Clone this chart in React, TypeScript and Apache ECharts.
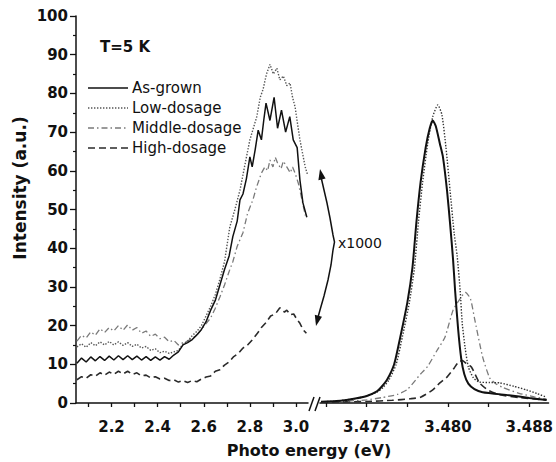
import React, { useEffect, useRef } from "react";
import * as echarts from "echarts";

// ---------- Data (x1000-scaled visible band, left segment) ----------
const AS_GROWN_LEFT_E = [2.05, 2.07, 2.09, 2.11, 2.13, 2.15, 2.17, 2.19, 2.21, 2.23, 2.25, 2.27, 2.29, 2.31, 2.33, 2.35, 2.37, 2.39, 2.41, 2.43, 2.45, 2.47, 2.49, 2.51, 2.53, 2.55, 2.57, 2.59, 2.61, 2.63, 2.65, 2.67, 2.69, 2.71, 2.726, 2.745, 2.757, 2.77, 2.785, 2.8, 2.81, 2.823, 2.836, 2.85, 2.86, 2.87, 2.887, 2.905, 2.92, 2.937, 2.955, 2.973, 2.988, 3.005, 3.017, 3.03, 3.047];
const AS_GROWN_LEFT_I = [10.3, 11.6, 10.6, 11.9, 10.9, 12.0, 11.0, 12.1, 11.1, 12.2, 11.2, 12.2, 11.2, 12.1, 11.1, 12.0, 11.0, 11.9, 11.1, 12.0, 11.3, 12.4, 13.2, 15.0, 15.6, 16.4, 17.6, 19.0, 21.0, 24.0, 26.5, 30.5, 34.5, 38.0, 43.0, 47.0, 52.5, 54.0, 58.0, 63.6, 61.0, 65.5, 70.5, 68.0, 73.0, 77.5, 73.0, 79.0, 71.0, 75.7, 70.0, 74.0, 68.0, 66.0, 57.6, 51.7, 48.0];

const LOW_LEFT_E = [2.05, 2.07, 2.09, 2.11, 2.13, 2.15, 2.17, 2.19, 2.21, 2.23, 2.25, 2.27, 2.29, 2.31, 2.33, 2.35, 2.37, 2.39, 2.41, 2.43, 2.45, 2.47, 2.49, 2.51, 2.53, 2.55, 2.57, 2.59, 2.61, 2.63, 2.65, 2.67, 2.69, 2.713, 2.735, 2.757, 2.78, 2.8, 2.815, 2.83, 2.845, 2.857, 2.872, 2.887, 2.902, 2.917, 2.93, 2.945, 2.96, 2.974, 2.985, 2.996, 3.007, 3.017, 3.03, 3.04, 3.05];
const LOW_LEFT_I = [14.5, 15.3, 14.4, 15.6, 14.8, 15.8, 15.0, 15.9, 15.0, 15.8, 14.9, 15.6, 14.6, 15.2, 14.2, 14.6, 13.6, 14.0, 13.0, 13.4, 12.8, 13.2, 13.6, 15.2, 16.0, 17.4, 18.5, 20.0, 22.5, 25.0, 28.0, 32.0, 36.5, 45.5, 50.0, 55.0, 62.0, 68.0, 71.0, 74.0, 79.0, 81.0, 85.0, 87.5, 85.0, 86.5, 83.5, 84.5, 82.0, 82.7, 79.0, 76.5, 72.0, 68.0, 64.0, 61.0, 59.0];

const MIDDLE_LEFT_E = [2.05, 2.07, 2.09, 2.11, 2.13, 2.15, 2.17, 2.19, 2.21, 2.23, 2.25, 2.27, 2.29, 2.31, 2.33, 2.35, 2.37, 2.39, 2.41, 2.43, 2.45, 2.47, 2.49, 2.51, 2.53, 2.55, 2.57, 2.59, 2.61, 2.63, 2.65, 2.67, 2.69, 2.71, 2.726, 2.745, 2.77, 2.79, 2.813, 2.83, 2.85, 2.865, 2.877, 2.887, 2.9, 2.91, 2.92, 2.935, 2.945, 2.96, 2.975, 2.985, 2.996, 3.01, 3.026, 3.04];
const MIDDLE_LEFT_I = [16.0, 17.5, 16.8, 18.4, 17.5, 19.2, 18.2, 19.5, 18.6, 20.0, 18.8, 20.2, 18.8, 19.5, 18.0, 18.6, 17.2, 17.8, 16.6, 17.0, 15.8, 16.2, 15.0, 15.6, 16.0, 16.8, 17.5, 19.0, 20.5, 22.0, 24.5, 27.4, 30.5, 34.0, 36.5, 40.5, 44.0, 49.0, 52.5, 56.0, 59.4, 61.0, 60.0, 62.8, 61.0, 63.5, 62.0, 60.5, 62.5, 61.0, 59.5, 61.0, 59.4, 56.8, 52.5, 48.5];

const HIGH_LEFT_E = [2.05, 2.07, 2.09, 2.11, 2.13, 2.15, 2.17, 2.19, 2.21, 2.23, 2.25, 2.27, 2.29, 2.31, 2.33, 2.35, 2.37, 2.39, 2.41, 2.43, 2.45, 2.47, 2.49, 2.51, 2.53, 2.55, 2.57, 2.59, 2.61, 2.63, 2.65, 2.67, 2.69, 2.71, 2.73, 2.75, 2.77, 2.79, 2.81, 2.83, 2.85, 2.87, 2.89, 2.91, 2.93, 2.95, 2.96, 2.975, 2.99, 3.005, 3.017, 3.03, 3.045];
const HIGH_LEFT_I = [6.0, 6.8, 6.4, 7.3, 6.9, 7.8, 7.2, 8.0, 7.4, 8.2, 7.5, 8.2, 7.4, 7.8, 7.0, 7.2, 6.5, 6.8, 6.2, 6.4, 5.8, 6.0, 5.4, 5.8, 5.3, 5.8, 5.5, 6.2, 6.7, 7.0, 8.2, 8.6, 9.8, 10.6, 12.0, 12.8, 14.2, 15.0, 16.3, 17.8, 19.5, 20.8, 22.5, 23.0, 24.6, 23.5, 24.0, 22.8, 23.0, 21.5, 20.6, 19.0, 18.0];

// ---------- Data (band-edge segment, right) ----------
const AS_GROWN_RIGHT_E = [3.4675, 3.469, 3.47, 3.471, 3.472, 3.473, 3.4734, 3.474, 3.4747, 3.4753, 3.476, 3.4765, 3.4769, 3.4773, 3.4778, 3.4782, 3.4785, 3.4788, 3.4792, 3.4795, 3.4799, 3.4802, 3.4805, 3.4807, 3.481, 3.4813, 3.4816, 3.482, 3.4826, 3.4834, 3.486, 3.488, 3.4897];
const AS_GROWN_RIGHT_I = [0.3, 0.5, 0.8, 1.2, 1.8, 3.0, 4.0, 6.0, 10.0, 17.0, 26.0, 35.0, 47.0, 57.0, 66.0, 71.0, 73.0, 71.5, 67.0, 63.6, 55.0, 46.5, 37.0, 29.0, 19.0, 11.5, 7.5, 5.0, 3.6, 2.8, 2.0, 1.3, 0.8];

const LOW_RIGHT_E = [3.4675, 3.469, 3.47, 3.471, 3.472, 3.473, 3.4736, 3.4742, 3.4749, 3.4755, 3.4762, 3.4767, 3.4771, 3.4775, 3.478, 3.4785, 3.479, 3.4794, 3.4798, 3.4802, 3.4806, 3.4809, 3.4812, 3.4814, 3.4817, 3.482, 3.4825, 3.4831, 3.4841, 3.4851, 3.4865, 3.4877, 3.4888, 3.4897];
const LOW_RIGHT_I = [0.3, 0.5, 0.8, 1.2, 1.8, 2.8, 4.0, 6.0, 10.0, 17.0, 26.0, 35.0, 47.0, 57.0, 67.0, 74.0, 77.0, 74.5, 66.0, 55.0, 44.0, 38.0, 29.0, 20.6, 14.0, 9.3, 6.5, 5.4, 5.3, 5.2, 4.3, 3.4, 2.4, 1.5];

const MIDDLE_RIGHT_E = [3.4675, 3.47, 3.472, 3.4735, 3.475, 3.476, 3.4773, 3.478, 3.4789, 3.4797, 3.4805, 3.4812, 3.4817, 3.4822, 3.4826, 3.4834, 3.4841, 3.4847, 3.4854, 3.487, 3.4885, 3.4897];
const MIDDLE_RIGHT_I = [0.3, 0.5, 0.8, 1.4, 2.2, 3.5, 7.5, 9.5, 13.5, 17.0, 24.0, 27.0, 28.6, 27.0, 22.0, 12.0, 6.5, 5.0, 4.0, 2.5, 1.6, 1.0];

const HIGH_RIGHT_E = [3.4675, 3.472, 3.4745, 3.4763, 3.4773, 3.4785, 3.4792, 3.4799, 3.4806, 3.481, 3.4814, 3.4818, 3.4823, 3.4831, 3.4839, 3.485, 3.487, 3.4897];
const HIGH_RIGHT_I = [0.2, 0.4, 0.7, 1.1, 1.5, 3.4, 5.2, 6.7, 9.0, 10.5, 11.0, 10.2, 9.3, 5.2, 3.4, 2.2, 1.4, 0.8];

// ---------- Axis ticks ----------
const Y_MIN = 0;
const Y_MAX = 100;
const Y_STEP = 10;
const LEFT_X_RANGE = [2.046, 3.052];
const LEFT_TICKS = [2.1, 2.2, 2.3, 2.4, 2.5, 2.6, 2.7, 2.8, 2.9, 3.0];
const LEFT_LABELS = [2.2, 2.4, 2.6, 2.8, 3.0];
const RIGHT_X_RANGE = [3.4674, 3.4899];
const RIGHT_TICKS = [3.468, 3.472, 3.476, 3.48, 3.484, 3.488];
const RIGHT_LABELS = [3.472, 3.48, 3.488];

const SERIES_NAMES = ["As-grown", "Low-dosage", "Middle-dosage", "High-dosage"];

const FONT = "DejaVu Sans";

const pairs = (e: number[], v: number[]) => e.map((x, i) => [x, v[i]]);

const STYLES = [
  { color: "#111111", width: 1.6, dash: "solid" as any },
  { color: "#555555", width: 1.4, dash: [1.4, 1.6] },
  { color: "#7a7a7a", width: 1.3, dash: [6, 3, 1.5, 3] },
  { color: "#2a2a2a", width: 1.6, dash: [7, 4] },
];

export default function App() {
  const ref = useRef<HTMLDivElement>(null);

  useEffect(() => {
    if (!ref.current) return;
    const chart = echarts.init(ref.current, null, { renderer: "svg" });

    const leftData = [
      pairs(AS_GROWN_LEFT_E, AS_GROWN_LEFT_I),
      pairs(LOW_LEFT_E, LOW_LEFT_I),
      pairs(MIDDLE_LEFT_E, MIDDLE_LEFT_I),
      pairs(HIGH_LEFT_E, HIGH_LEFT_I),
    ];
    const rightData = [
      pairs(AS_GROWN_RIGHT_E, AS_GROWN_RIGHT_I),
      pairs(LOW_RIGHT_E, LOW_RIGHT_I),
      pairs(MIDDLE_RIGHT_E, MIDDLE_RIGHT_I),
      pairs(HIGH_RIGHT_E, HIGH_RIGHT_I),
    ];

    const series: any[] = [];
    SERIES_NAMES.forEach((name, i) => {
      const st = STYLES[i];
      series.push({
        name,
        type: "line",
        xAxisIndex: 0,
        yAxisIndex: 0,
        data: leftData[i],
        symbol: "none",
        lineStyle: { color: st.color, width: i === 0 ? 1.5 : st.width, type: st.dash },
        z: 4 - i,
      });
      series.push({
        name,
        type: "line",
        xAxisIndex: 1,
        yAxisIndex: 1,
        data: rightData[i],
        symbol: "none",
        smooth: 0.2,
        lineStyle: { color: i === 1 ? "#333" : st.color, width: i === 0 ? 2 : st.width, type: st.dash },
        z: 4 - i,
      });
    });

    const tickLabelStyle = {
      fontFamily: FONT,
      fontWeight: "bold" as const,
      fontSize: 15,
      color: "#111",
    };

    const xAxisCommon = {
      type: "value",
      axisLine: { show: true, onZero: false, lineStyle: { color: "#111", width: 1.5 } },
      splitLine: { show: false },
    };

    const legendGraphics: any[] = [];
    const rowsY = [88, 108, 128, 148];
    SERIES_NAMES.forEach((name, i) => {
      const st = STYLES[i];
      legendGraphics.push({
        type: "line",
        shape: { x1: 88, y1: rowsY[i], x2: 128, y2: rowsY[i] },
        style: {
          stroke: st.color,
          lineWidth: st.width,
          lineDash: Array.isArray(st.dash) ? st.dash : null,
        },
      });
      legendGraphics.push({
        type: "text",
        x: 132,
        y: rowsY[i],
        style: {
          text: name,
          fontFamily: FONT,
          fontSize: 15,
          fill: "#111",
          verticalAlign: "middle",
          align: "left",
        },
      });
    });

    chart.setOption({
      animation: false,
      backgroundColor: "#ffffff",
      grid: [
        { left: 76, top: 16, width: 232, height: 387, containLabel: false },
        { left: 320, top: 16, width: 230, height: 387, containLabel: false },
      ],
      xAxis: [
        {
          ...xAxisCommon,
          gridIndex: 0,
          min: LEFT_X_RANGE[0],
          max: LEFT_X_RANGE[1],
          axisTick: { show: true, length: 4, customValues: LEFT_TICKS, lineStyle: { color: "#111", width: 1.3 } },
          axisLabel: {
            ...tickLabelStyle,
            margin: 16,
            customValues: LEFT_LABELS,
            formatter: (v: number) => v.toFixed(1),
          },
        },
        {
          ...xAxisCommon,
          gridIndex: 1,
          min: RIGHT_X_RANGE[0],
          max: RIGHT_X_RANGE[1],
          axisTick: { show: true, length: 4, customValues: RIGHT_TICKS, lineStyle: { color: "#111", width: 1.3 } },
          axisLabel: {
            ...tickLabelStyle,
            margin: 16,
            customValues: RIGHT_LABELS,
            formatter: (v: number) => v.toFixed(3),
          },
        },
      ],
      yAxis: [
        {
          type: "value",
          gridIndex: 0,
          min: Y_MIN,
          max: Y_MAX,
          interval: Y_STEP,
          axisLine: { show: true, lineStyle: { color: "#111", width: 1.5 } },
          axisTick: { show: true, length: 6, lineStyle: { color: "#111", width: 1.3 } },
          minorTick: { show: true, splitNumber: 2, length: 3, lineStyle: { color: "#111", width: 1.2 } },
          splitLine: { show: false },
          axisLabel: { ...tickLabelStyle, margin: 8 },
        },
        {
          type: "value",
          gridIndex: 1,
          min: Y_MIN,
          max: Y_MAX,
          interval: Y_STEP,
          show: false,
          splitLine: { show: false },
        },
      ],
      series,
      graphic: [
        // axis break marks
        { type: "line", shape: { x1: 309, y1: 411, x2: 314, y2: 397 }, style: { stroke: "#111", lineWidth: 1.5 } },
        { type: "line", shape: { x1: 315, y1: 411, x2: 320, y2: 397 }, style: { stroke: "#111", lineWidth: 1.5 } },
        // axis titles
        {
          type: "text",
          x: 309,
          y: 450,
          style: {
            text: "Photo energy (eV)",
            fontFamily: FONT,
            fontWeight: "bold",
            fontSize: 16,
            fill: "#111",
            align: "center",
            verticalAlign: "middle",
          },
        },
        {
          type: "text",
          x: 20,
          y: 188,
          rotation: Math.PI / 2,
          style: {
            text: "Intensity (a.u.)",
            fontFamily: FONT,
            fontWeight: "bold",
            fontSize: 17,
            fill: "#111",
            align: "center",
            verticalAlign: "middle",
          },
        },
        // temperature label
        {
          type: "text",
          x: 100,
          y: 47,
          style: {
            text: "T=5 K",
            fontFamily: FONT,
            fontWeight: "bold",
            fontSize: 15,
            fill: "#111",
            align: "left",
            verticalAlign: "middle",
          },
        },
        ...legendGraphics,
        // x1000 double arrow
        {
          type: "polyline",
          shape: {
            points: [
              [320.8, 176], [324, 190], [327, 203], [330, 218], [333, 235], [334.5, 242],
              [333, 250], [331, 265], [328, 280], [324, 296], [320, 310], [317.8, 318],
            ],
          },
          style: { stroke: "#111", lineWidth: 1.5, fill: null },
        },
        {
          type: "polygon",
          shape: { points: [[320, 169], [325.6, 178.5], [318.4, 180.2]] },
          style: { fill: "#111" },
        },
        {
          type: "polygon",
          shape: { points: [[316, 326], [322, 316.8], [314.8, 314.8]] },
          style: { fill: "#111" },
        },
        {
          type: "text",
          x: 338,
          y: 243,
          style: {
            text: "x1000",
            fontFamily: FONT,
            fontSize: 14,
            fill: "#111",
            align: "left",
            verticalAlign: "middle",
          },
        },
      ],
    });

    return () => {
      chart.dispose();
    };
  }, []);

  return (
    <div
      ref={ref}
      style={{ position: "fixed", left: 0, top: 0, width: 556, height: 462, background: "#fff" }}
    />
  );
}
